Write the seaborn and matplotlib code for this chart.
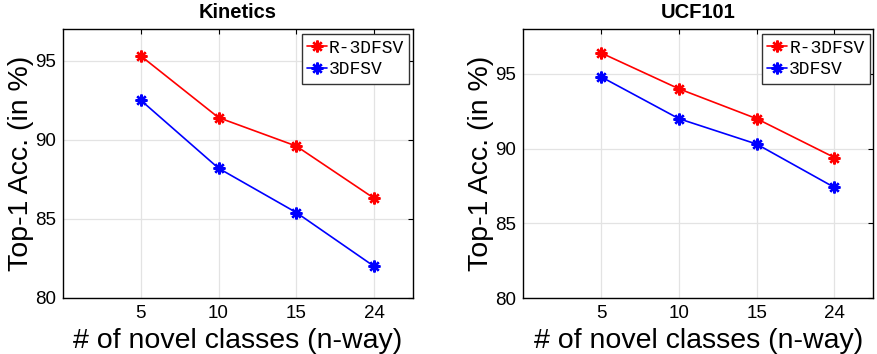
import matplotlib
matplotlib.use("Agg")
import matplotlib.pyplot as plt
import seaborn as sns
import pandas as pd

# ---- data ----
n_way = ["5", "10", "15", "24"]
methods = ["R-3DFSV", "3DFSV"]
kinetics_r3dfsv = [95.3, 91.4, 89.6, 86.3]
kinetics_3dfsv = [92.5, 88.2, 85.4, 82.0]
ucf_r3dfsv = [96.4, 94.0, 92.0, 89.4]
ucf_3dfsv = [94.8, 92.0, 90.3, 87.4]
titles = ["Kinetics", "UCF101"]
yticks = [80, 85, 90, 95]
ylims = [(80, 97), (80, 98)]

sns.set_style("white")
plt.rcParams["font.family"] = ["Liberation Sans", "DejaVu Sans"]
plt.rcParams["text.color"] = "black"
plt.rcParams["axes.labelcolor"] = "black"

def frame(r, b):
    return pd.DataFrame({
        "n": n_way * 2,
        "acc": r + b,
        "method": [methods[0]] * len(n_way) + [methods[1]] * len(n_way),
    })

datasets = [frame(kinetics_r3dfsv, kinetics_3dfsv), frame(ucf_r3dfsv, ucf_3dfsv)]

fig = plt.figure(figsize=(8.78, 3.54), dpi=100)
positions = [[63 / 878, 56 / 354, 350 / 878, 269 / 354],
             [523.3 / 878, 56 / 354, 350 / 878, 269 / 354]]
asterisk = (8, 2, 0)
palette = {"R-3DFSV": "#ff0000", "3DFSV": "#0000ff"}

for i, df in enumerate(datasets):
    ax = fig.add_axes(positions[i])
    sns.pointplot(data=df, x="n", y="acc", hue="method", order=n_way,
                  hue_order=methods, palette=palette, markers=[asterisk, asterisk],
                  linestyles=["-", "-"], errorbar=None, ax=ax,
                  markersize=8.5, linewidth=1.2)
    ax.grid(True, axis="both", color="#e3e3e3", linewidth=0.9, zorder=0)
    ax.xaxis.grid(True, color="#e3e3e3", linewidth=0.9)
    ax.set_axisbelow(True)
    for ln in ax.lines:
        ln.set_markeredgewidth(1.7)
        ln.set_markeredgecolor(ln.get_color())
    ax.set_xlim(-1, 3.5)
    ax.set_ylim(*ylims[i])
    ax.set_yticks(yticks)
    ax.set_yticklabels([str(v) for v in yticks])
    ax.tick_params(direction="in", length=3.5, width=0.8, labelsize=13.5,
                   top=True, right=True, pad=5, colors="black")
    for sp in ax.spines.values():
        sp.set_color("black")
        sp.set_linewidth(1.0)
    ax.set_xlabel("# of novel classes (n-way)", fontsize=20.5, labelpad=4, color="black")
    ax.set_ylabel("Top-1 Acc. (in %)", fontsize=20.5, labelpad=1, color="black")
    ax.set_title(titles[i], fontsize=14.5, fontweight="bold", pad=8, color="black")
    handles, labels = ax.get_legend_handles_labels()
    leg = ax.legend(handles, labels, loc="upper right",
                    bbox_to_anchor=(0.99, 0.98), frameon=True, fancybox=False,
                    framealpha=1, edgecolor="#333333", handlelength=1.1,
                    handletextpad=0.1, labelspacing=0.25, borderpad=0.3,
                    borderaxespad=0.0,
                    prop={"family": "Liberation Mono", "size": 13})
    for t in leg.get_texts():
        t.set_color("black")
    leg.get_frame().set_linewidth(1.0)

fig.savefig("out.png", dpi=100)
